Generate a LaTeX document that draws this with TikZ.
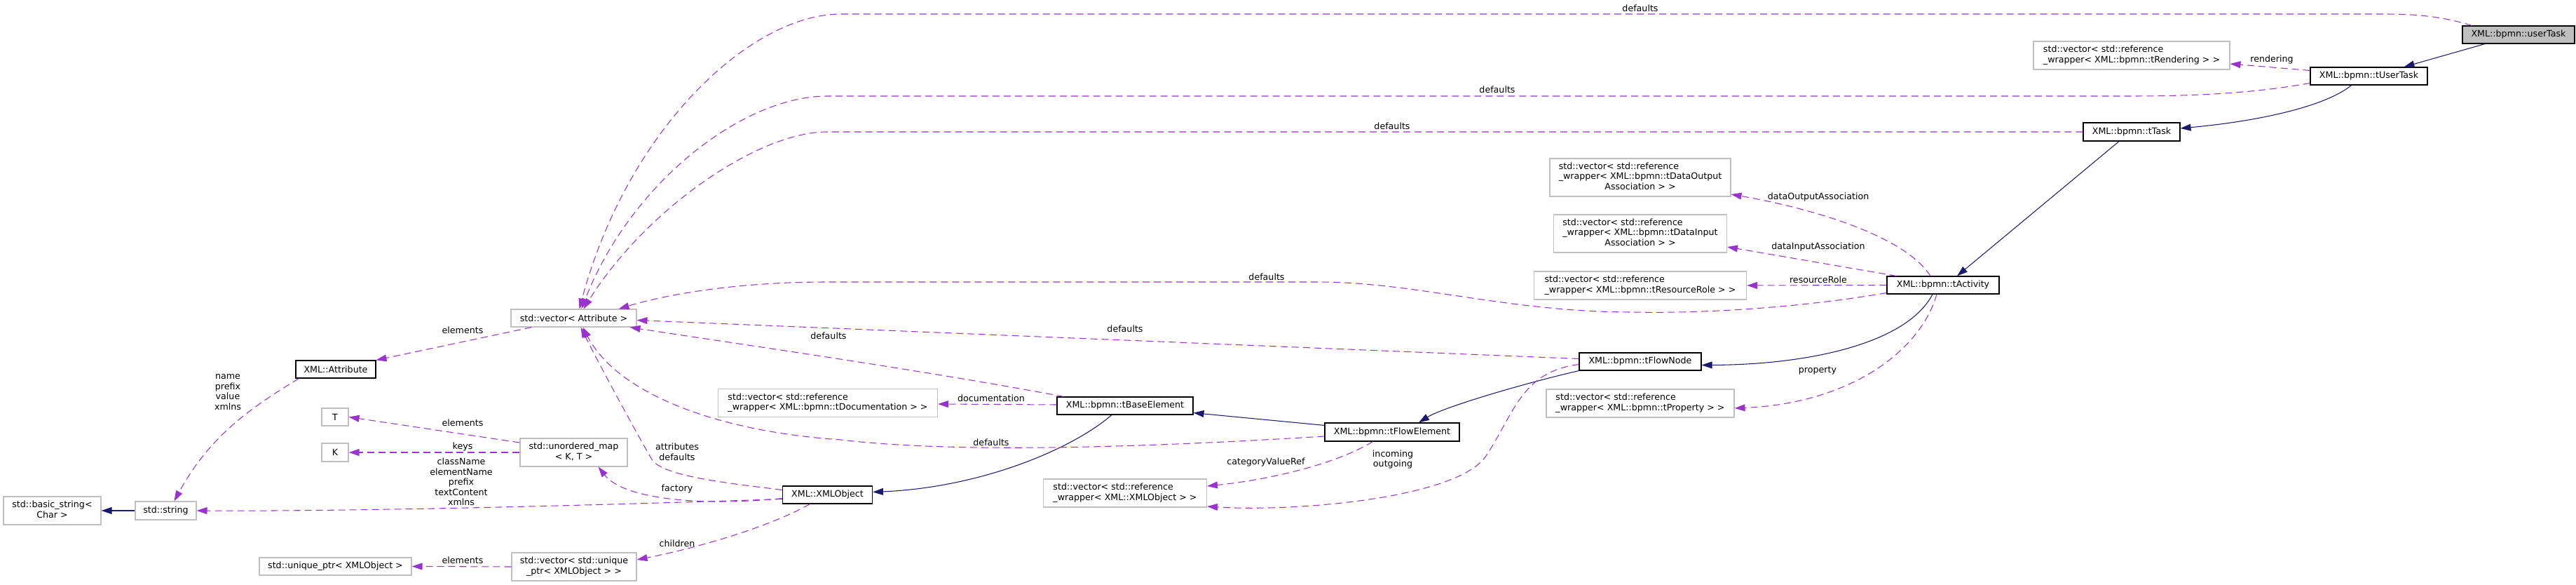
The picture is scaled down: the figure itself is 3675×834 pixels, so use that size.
\documentclass[tikz,border=0pt]{standalone}
\usepackage{fontspec}
\setmainfont{DejaVu Sans}
\usetikzlibrary{arrows.meta,calc}
\definecolor{orchid}{HTML}{9A32CD}
\definecolor{midnight}{HTML}{191970}
\definecolor{grey75}{HTML}{BFBFBF}
\newcommand\pxu{0.02cm}
\newcommand\boxlines[2]{\begin{tabular}{@{}l@{}}#1\\\multicolumn{1}{@{}c@{}}{#2}\end{tabular}}

\begin{document}
\begin{tikzpicture}[x=0.02cm,y=-0.02cm,font=\fontsize{7.2}{8.3}\selectfont,
  cls/.style 2 args={draw=black,line width=0.65pt,inner sep=0pt,minimum width=#1*\pxu,minimum height=#2*\pxu},
  ext/.style 2 args={cls={#1}{#2},draw=grey75},
  mem/.style={orchid,line width=0.6pt,dash pattern=on 5.7pt off 3.4pt,-{Triangle[length=8.5pt,width=5.6pt]}},
  inh/.style={midnight,line width=0.6pt,-{Triangle[length=8.5pt,width=5.6pt]}},
  lbl/.style={inner sep=0pt,align=center}]
\useasboundingbox (0,0) rectangle (3675,834);

% classes of the task chain
\node[cls={160}{25},fill=grey75] (userTask) at (3593,49.5) {XML::bpmn::userTask};
\node[cls={167}{25}] (tUserTask) at (3379.5,108.5) {XML::bpmn::tUserTask};
\node[ext={280}{40}] (rendering) at (3041,79) {\boxlines{std::vector< std::reference}{\_wrapper< XML::bpmn::tRendering > >}};
\node[cls={138}{26}] (tTask) at (3041,188) {XML::bpmn::tTask};
\node[ext={258}{54}] (dataOut) at (2340,253) {\boxlines{std::vector< std::reference\\\_wrapper< XML::bpmn::tDataOutput}{Association > >}};
\node[ext={247}{54}] (dataIn) at (2340,333) {\boxlines{std::vector< std::reference\\\_wrapper< XML::bpmn::tDataInput}{Association > >}};
\node[ext={303}{40}] (resRole) at (2340,407) {\boxlines{std::vector< std::reference}{\_wrapper< XML::bpmn::tResourceRole > >}};
\node[cls={160}{25}] (tActivity) at (2772,406.5) {XML::bpmn::tActivity};
\node[cls={174}{25}] (tFlowNode) at (2340,515.5) {XML::bpmn::tFlowNode};
\node[ext={268}{40}] (property) at (2340,575) {\boxlines{std::vector< std::reference}{\_wrapper< XML::bpmn::tProperty > >}};
\node[cls={194}{25}] (tBaseElement) at (1605,578.5) {XML::bpmn::tBaseElement};
\node[cls={192}{26}] (tFlowElement) at (1986,616) {XML::bpmn::tFlowElement};
\node[ext={233}{40}] (xmlRefVec) at (1605,703) {\boxlines{std::vector< std::reference}{\_wrapper< XML::XMLObject > >}};
\node[ext={313}{40}] (docVec) at (1181,574.5) {\boxlines{std::vector< std::reference}{\_wrapper< XML::bpmn::tDocumentation > >}};

% base classes and containers
\node[ext={179}{25}] (vecAttr) at (818.5,453.5) {std::vector< Attribute >};
\node[cls={114}{25}] (attribute) at (479,526.5) {XML::Attribute};
\node[ext={38}{25}] (nodeT) at (478,594.5) {T};
\node[ext={38}{26}] (nodeK) at (478,645) {K};
\node[ext={153}{40}] (umap) at (818.5,645) {\boxlines{std::unordered\_map}{< K, T >}};
\node[ext={139}{40}] (basicStr) at (74.5,728) {\boxlines{std::basic\_string<}{Char >}};
\node[ext={87}{26}] (stdString) at (236.5,728) {std::string};
\node[cls={128}{25}] (XMLObject) at (1180.5,705.5) {XML::XMLObject};
\node[ext={217}{25}] (uniquePtr) at (478.5,807.5) {std::unique\_ptr< XMLObject >};
\node[ext={178}{40}] (uniqueVec) at (819,808) {\boxlines{std::vector< std::unique}{\_ptr< XMLObject > >}};

% inheritance
\draw[inh] ($(userTask.south)+(-48,0)$) -- ($(tUserTask.north)+(50,0)$);
\draw[inh] ($(tUserTask.south)+(-25,0)$) .. controls (3320,150) and (3230,172) .. ($(tTask.east)+(0,-5)$);
\draw[inh] ($(tTask.south)+(-18,0)$) -- ($(tActivity.north)+(20,0)$);
\draw[inh] ($(tActivity.south)+(-15,0)$) .. controls (2720,490) and (2580,520) .. ($(tFlowNode.east)+(0,5)$);
\draw[inh] (tFlowNode.south west) .. controls (2180,545) and (2060,580) .. ($(tFlowElement.north)+(38,0)$);
\draw[inh] ($(tFlowElement.north west)+(0,4)$) -- ($(tBaseElement.south east)+(0,-3)$);
\draw[inh] ($(tBaseElement.south)+(-19,0)$) .. controls (1530,640) and (1400,695) .. ($(XMLObject.east)+(0,-4)$);
\draw[inh] (stdString.west) -- (basicStr.east);

% usage
\draw[mem] ($(userTask.north west)+(14,0)$) .. controls (3480,22) and (3440,20) .. (3400,20) -- (1200,20) .. controls (1070,20) and (895,185) .. ($(vecAttr.north)+(8,0)$);
\draw[mem] ($(tUserTask.west)+(0,10)$) .. controls (3220,132) and (3140,137) .. (3040,137) -- (1180,137) .. controls (1060,137) and (900,260) .. ($(vecAttr.north)+(11,0)$);
\draw[mem] (tTask.west) -- (1180,188) .. controls (1080,188) and (920,300) .. ($(vecAttr.north)+(14,0)$);
\draw[mem] ($(tUserTask.west)+(0,-8)$) -- ($(rendering.east)+(0,12)$);
\draw[mem] ($(tActivity.north)+(-18,0)$) .. controls (2720,340) and (2600,300) .. ($(dataOut.east)+(0,24)$);
\draw[mem] ($(tActivity.north west)+(14,0)$) -- ($(dataIn.east)+(0,19)$);
\draw[mem] (tActivity.west) -- (resRole.east);
\draw[mem] ($(tActivity.south west)+(0,-2)$) .. controls (2560,440) and (2420,447) .. (2330,445) .. controls (2150,445) and (2020,402) .. (1880,402) -- (1180,402) .. controls (1050,402) and (950,420) .. ($(vecAttr.north east)+(-26,0)$);
\draw[mem] ($(tActivity.south)+(-9,0)$) .. controls (2740,500) and (2640,575) .. ($(property.east)+(0,7)$);
\draw[mem] ($(tFlowNode.west)+(0,-4)$) -- ($(vecAttr.east)+(0,3)$);
\draw[mem] ($(tFlowNode.west)+(0,4)$) .. controls (2170,530) and (2160,590) .. (2120,650) .. controls (2080,710) and (1850,730) .. ($(xmlRefVec.east)+(0,19)$);
\draw[mem] ($(tFlowElement.south west)+(69,0)$) .. controls (1900,665) and (1800,685) .. ($(xmlRefVec.east)+(0,-10)$);
\draw[mem] ($(tFlowElement.west)+(0,6)$) .. controls (1600,640) and (1350,645) .. (1200,627) .. controls (1020,615) and (880,560) .. ($(vecAttr.south)+(13,0)$);
\draw[mem] ($(tBaseElement.north west)+(10,0)$) .. controls (1300,525) and (1050,490) .. ($(vecAttr.south east)+(-10,0)$);
\draw[mem] ($(tBaseElement.west)+(0,-1.5)$) -- ($(docVec.east)+(0,1.5)$);
\draw[mem] ($(XMLObject.west)+(0,-7)$) .. controls (1050,690) and (945,680) .. (930,655) .. controls (915,630) and (855,520) .. ($(vecAttr.south)+(10,0)$);
\draw[mem] ($(XMLObject.west)+(0,5)$) .. controls (1000,722) and (890,712) .. ($(umap.south)+(35,0)$);
\draw[mem] ($(XMLObject.west)+(0,6)$) .. controls (800,722) and (500,729) .. (stdString.east);
\draw[mem] ($(XMLObject.south)+(-25,0)$) .. controls (1100,750) and (1000,780) .. ($(uniqueVec.east)+(0,-10)$);
\draw[mem] (uniqueVec.west) -- (uniquePtr.east);
\draw[mem] ($(vecAttr.south west)+(30,0)$) -- (attribute.north east);
\draw[mem] ($(attribute.south west)+(5,0)$) .. controls (360,580) and (300,620) .. ($(stdString.north)+(12,0)$);
\draw[mem] ($(umap.west)+(0,-14)$) -- (nodeT.east);
\draw[mem] (umap.west) -- (nodeK.east);

% edge labels
\foreach \x/\y/\t [count=\i] in {2340/12/defaults, 3241/85/rendering, 2136/128/defaults, 1986/180/defaults,
  2594/281/dataOutputAssociation, 2594/352/dataInputAssociation, 2594/399/resourceRole, 1807/395/defaults,
  2593/528/property, 660/471/elements, 1605/469/defaults, 1182/479/defaults, 1414/568/documentation,
  1414/631/defaults, 1806/659/categoryValueRef, 1987/655/{incoming\\outgoing}, 325/559/{name\\prefix\\value\\xmlns},
  660/603/elements, 660/637/keys, 658/687/{className\\elementName\\prefix\\textContent\\xmlns},
  966/644/{attributes\\defaults}, 966/697/factory, 966/775/children, 660/799/elements}
  \node[lbl] (lbl\i) at (\x,\y) {\t};
\end{tikzpicture}
\end{document}
